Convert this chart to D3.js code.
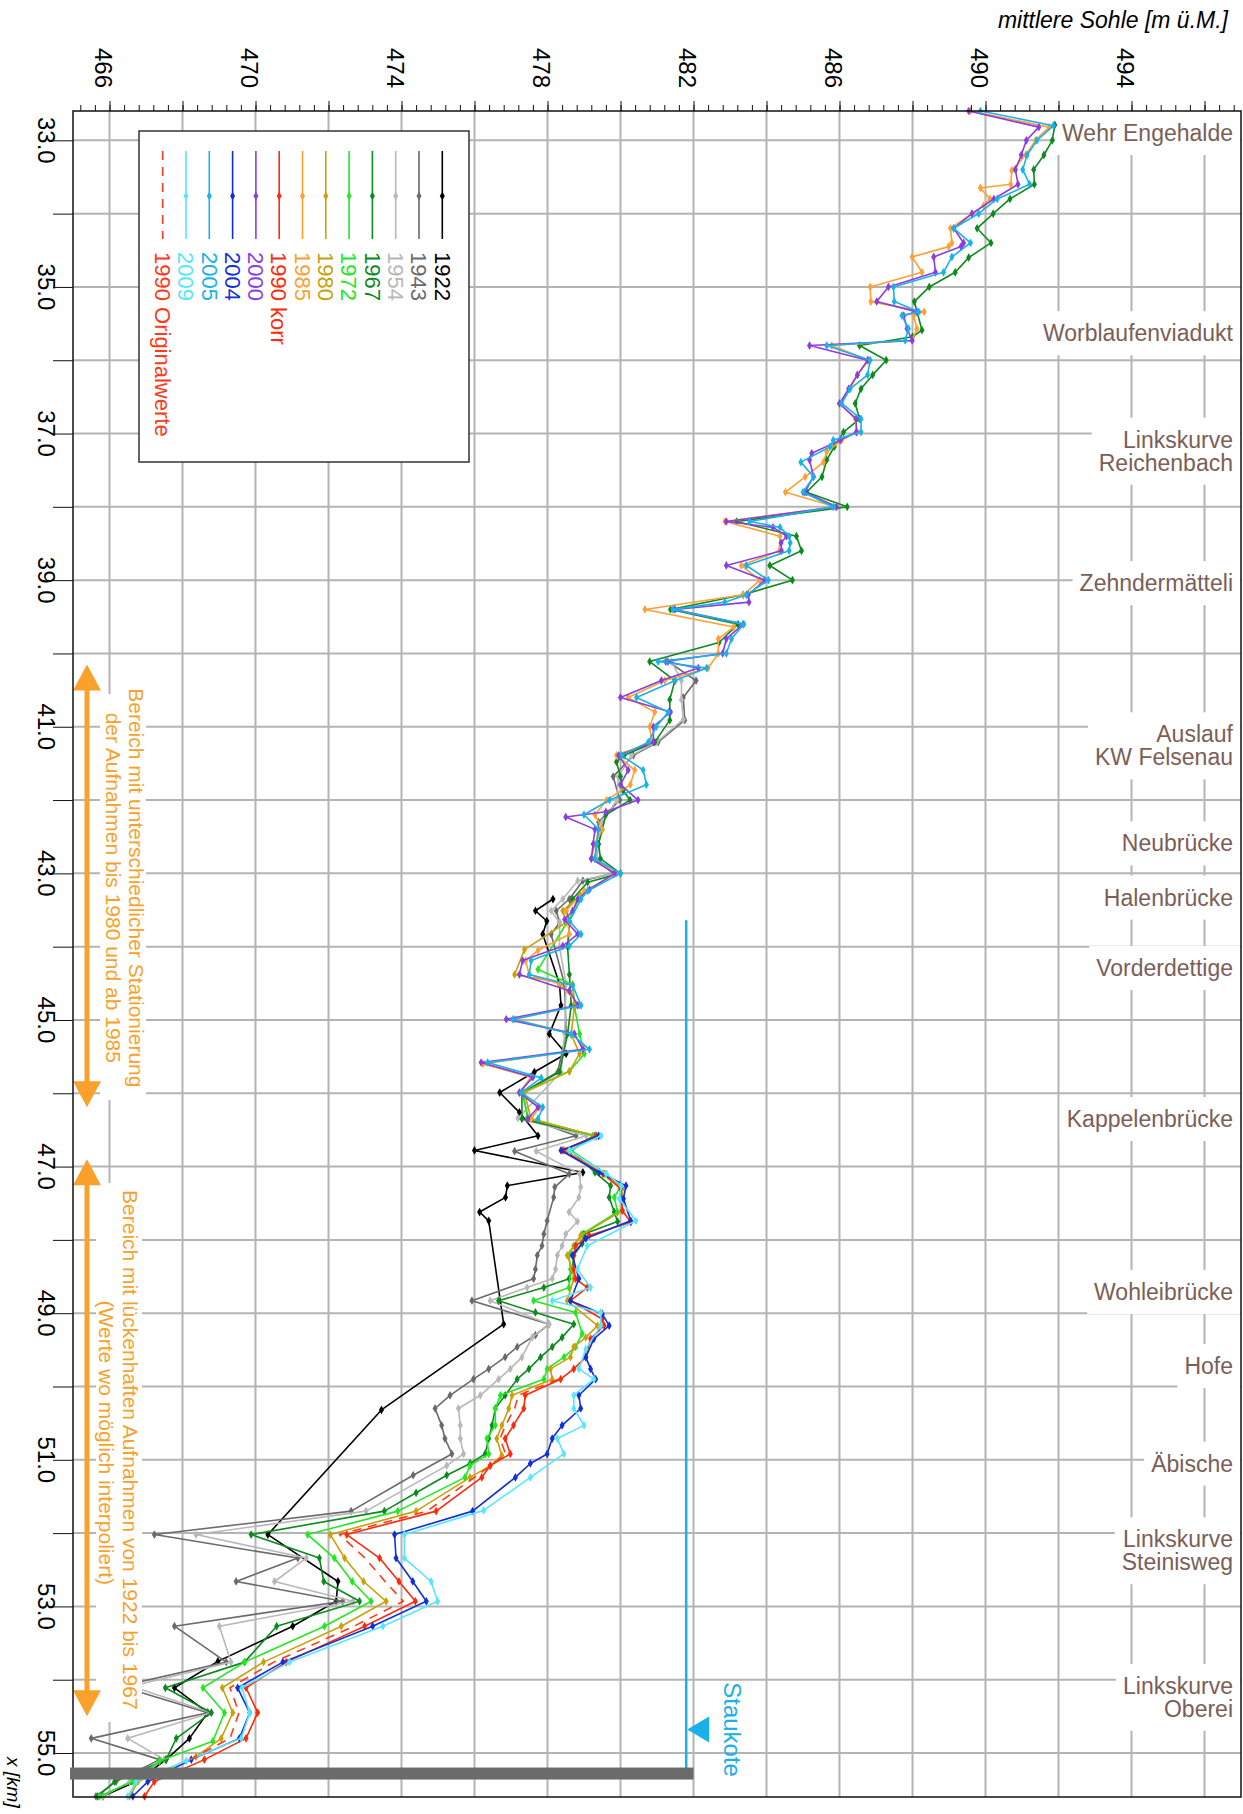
<!DOCTYPE html>
<html><head><meta charset="utf-8">
<script src="https://cdn.jsdelivr.net/npm/d3@7"></script>
<style>body{margin:0;background:#fff}svg{display:block}text{font-family:"Liberation Sans",Arial,Helvetica,sans-serif}</style>
</head><body>
<svg id="c" width="1243" height="1814"></svg>
<script>
// ---- data: [km, mittlere Sohle m ü.M.] ----
const s1922=[[43.35,478.15],[43.51,477.67],[43.65,477.98],[43.83,477.87],[44.51,478.33],[44.8,478.37],[45.19,478.05],[45.46,478.51],[45.71,477.64],[45.99,476.69],[46.26,477.23],[46.58,477.74],[46.78,476.0],[47.08,478.97],[47.26,476.9],[47.42,476.85],[47.62,476.14],[47.74,476.39],[49.15,476.8],[50.32,473.45],[52.02,470.34],[52.66,472.26],[52.93,472.21],[53.27,471.02],[53.75,468.97],[54.11,467.78],[54.45,468.69],[54.8,468.19],[55.09,467.55],[55.39,466.73],[55.59,465.82]];
const s1943=[[40.11,481.3],[40.37,482.07],[40.6,481.72],[40.91,481.76],[41.21,481.03],[41.39,480.35],[41.68,479.8],[42.0,479.98],[42.3,479.4],[42.6,479.35],[42.8,479.3],[43.0,479.8],[43.1,478.97],[43.35,478.6],[43.51,478.24],[43.67,478.33],[43.83,478.1],[44.52,478.47],[45.19,478.51],[45.71,478.28],[45.99,477.32],[46.34,477.46],[46.58,478.78],[46.79,477.1],[47.1,478.6],[47.28,478.2],[47.42,478.17],[47.74,477.99],[47.92,477.9],[48.08,477.85],[48.21,477.72],[48.4,477.67],[48.53,477.62],[48.83,475.93],[49.15,478.04],[49.3,477.67],[49.46,477.17],[49.6,476.84],[49.76,476.39],[49.9,475.97],[50.12,475.33],[50.3,474.92],[50.53,475.1],[50.71,475.19],[50.92,475.38],[51.21,474.32],[51.7,472.62],[52.02,467.23],[52.34,471.16],[52.66,469.47],[52.93,472.39],[53.27,467.78],[53.76,469.2],[54.09,466.3],[54.45,468.69],[54.8,465.5],[55.09,467.37],[55.39,466.18],[55.59,465.63]];
const s1954=[[40.11,481.4],[40.37,481.67],[40.63,481.67],[40.9,481.72],[41.21,480.99],[41.39,480.3],[41.68,479.94],[42.0,479.9],[42.3,479.5],[42.6,479.4],[42.8,479.35],[43.0,479.85],[43.1,478.83],[43.35,478.42],[43.51,478.1],[43.67,478.33],[44.01,478.33],[44.51,478.51],[45.19,478.47],[45.71,478.37],[46.34,477.19],[46.58,479.06],[46.79,477.69],[47.1,478.88],[47.28,478.91],[47.42,478.86],[47.62,478.59],[47.75,478.82],[47.92,478.5],[48.08,478.4],[48.21,478.27],[48.4,478.22],[48.53,478.13],[48.65,477.44],[48.83,476.43],[49.15,478.04],[49.33,477.58],[49.6,477.3],[49.76,476.98],[49.9,476.66],[50.12,476.16],[50.3,475.56],[50.53,475.61],[50.71,475.61],[50.92,475.7],[51.08,475.24],[51.7,473.03],[52.02,468.37],[52.34,471.39],[52.66,470.52],[52.93,472.67],[53.27,469.01],[53.76,469.33],[54.09,466.6],[54.45,468.79],[54.8,466.5],[55.09,467.5],[55.39,466.55],[55.59,465.82]];
const s1967=[[32.79,491.9],[33.0,491.83],[33.2,491.6],[33.4,491.32],[33.6,491.34],[33.8,490.67],[34.0,490.21],[34.2,489.77],[34.4,490.15],[34.6,489.54],[34.8,489.17],[35.0,488.46],[35.2,488.05],[35.59,488.26],[35.68,488.0],[35.8,486.55],[36.0,487.28],[36.2,486.91],[36.39,486.59],[36.59,486.43],[36.8,486.55],[36.98,486.11],[37.18,485.86],[37.36,485.65],[37.59,485.52],[37.8,485.1],[38.0,486.21],[38.2,483.18],[38.4,484.82],[38.6,484.96],[38.8,484.09],[39.0,484.71],[39.2,483.36],[39.4,481.37],[39.6,483.22],[39.85,482.7],[40.11,480.8],[40.37,481.49],[40.63,481.35],[40.91,481.35],[41.21,480.94],[41.39,480.1],[41.48,479.89],[41.68,480.0],[41.87,480.07],[42.0,480.26],[42.2,479.6],[42.4,479.5],[42.6,479.4],[42.8,479.45],[43.0,480.0],[43.12,479.1],[43.35,478.69],[43.51,478.51],[43.66,478.6],[44.0,478.55],[44.38,478.6],[44.8,478.65],[45.19,478.55],[45.71,478.33],[46.0,477.3],[46.35,477.3],[46.58,479.3],[46.78,478.65],[47.08,479.3],[47.26,479.73],[47.42,479.69],[47.62,479.83],[47.75,479.92],[47.92,479.0],[48.05,478.95],[48.21,478.72],[48.4,478.68],[48.53,478.59],[48.65,477.9],[48.83,476.66],[48.99,477.67],[49.15,478.72],[49.33,478.4],[49.46,478.13],[49.6,477.81],[49.76,477.49],[49.9,477.17],[50.12,476.84],[50.3,476.57],[50.53,476.48],[50.71,476.39],[50.92,476.29],[51.05,475.88],[51.21,475.24],[51.45,474.4],[51.7,473.53],[52.02,469.88],[52.34,471.75],[52.66,471.87],[52.93,472.85],[53.27,470.58],[53.76,469.7],[54.11,467.53],[54.45,468.79],[54.8,467.83],[55.09,467.55],[55.39,466.14],[55.59,465.68]];
const s1972=[[43.3,478.9],[43.53,478.69],[43.65,478.56],[44.31,477.74],[44.52,478.69],[44.83,478.74],[45.19,478.88],[45.46,479.01],[45.7,478.6],[45.99,477.32],[46.33,477.46],[46.58,479.24],[46.78,478.65],[47.1,479.61],[47.26,480.01],[47.42,479.83],[47.62,479.92],[47.92,478.95],[48.08,478.72],[48.21,478.59],[48.4,478.63],[48.65,478.59],[48.83,477.62],[48.99,478.77],[49.28,478.95],[49.46,478.77],[49.6,478.45],[49.76,477.99],[49.9,477.9],[50.12,476.71],[50.3,476.57],[50.53,476.57],[50.71,476.34],[50.92,476.39],[51.08,475.88],[51.24,475.74],[51.7,473.9],[52.02,471.43],[52.34,472.16],[52.66,472.65],[52.93,473.17],[53.27,471.89],[53.76,469.7],[54.11,468.56],[54.45,469.15],[54.84,468.83],[55.11,467.37],[55.39,466.64],[55.59,465.73]];
const s1980=[[43.3,478.9],[43.51,478.42],[43.67,478.51],[44.04,477.37],[44.38,477.1],[44.52,478.69],[44.8,478.74],[45.2,478.65],[45.46,478.88],[45.7,478.6],[45.99,477.37],[46.35,477.55],[46.58,479.33],[46.78,478.47],[47.1,479.56],[47.3,480.05],[47.6,480.05],[47.94,478.91],[48.21,478.54],[48.4,478.68],[48.53,478.72],[48.83,478.54],[49.17,479.37],[49.33,479.05],[49.46,478.72],[49.6,478.63],[49.76,478.08],[49.9,478.13],[50.12,477.03],[50.3,476.94],[50.53,476.75],[50.71,476.61],[50.94,476.75],[51.08,476.43],[51.24,475.88],[51.7,474.4],[52.02,472.05],[52.34,472.44],[52.66,472.96],[52.93,473.58],[53.27,472.35],[53.76,470.22],[54.11,469.09],[54.45,469.38],[54.8,469.06],[55.05,468.37],[55.39,466.78],[55.59,466.55]];
const s1985=[[32.6,489.59],[32.82,491.74],[33.0,491.37],[33.2,491.1],[33.41,490.72],[33.6,490.69],[33.65,489.86],[33.8,490.12],[33.89,489.95],[34.0,489.63],[34.2,489.04],[34.4,489.08],[34.45,488.99],[34.59,487.99],[34.8,488.26],[35.0,486.84],[35.2,486.86],[35.34,488.32],[35.39,488.03],[35.57,488.12],[35.73,487.99],[35.8,485.79],[36.0,486.8],[36.2,486.49],[36.39,486.29],[36.59,486.0],[36.8,486.43],[36.98,486.49],[37.09,486.06],[37.25,485.65],[37.39,485.56],[37.59,485.06],[37.8,484.52],[38.0,485.88],[38.2,482.86],[38.4,484.37],[38.6,484.35],[38.8,483.31],[39.0,483.82],[39.2,483.36],[39.4,480.67],[39.64,483.1],[39.8,482.68],[40.0,482.68],[40.2,482.4],[40.37,481.21],[40.6,480.21],[40.8,480.94],[41.0,480.8],[41.21,480.85],[41.39,479.89],[41.59,480.39],[41.79,480.27],[42.0,479.62],[42.2,479.3],[42.4,479.5],[42.6,479.3],[42.8,479.2],[43.0,479.9],[43.24,479.01],[43.51,478.51],[43.83,478.6],[44.05,477.74],[44.19,477.4],[44.38,477.5],[44.51,478.33],[44.8,478.88],[44.99,477.1],[45.19,478.72],[45.4,479.0],[45.6,476.23],[45.78,477.55],[45.99,477.23],[46.19,477.78],[46.35,477.55]];
const s1990k=[[46.58,479.33],[46.78,478.42],[47.1,479.52],[47.3,480.0],[47.6,480.05],[47.76,480.28],[47.94,479.14],[48.08,478.77],[48.21,478.72],[48.4,478.72],[48.53,478.77],[48.65,479.09],[48.83,478.63],[49.08,479.5],[49.17,479.55],[49.35,479.18],[49.6,479.05],[49.76,478.72],[49.9,478.36],[50.12,477.39],[50.3,477.35],[50.53,477.07],[50.71,476.84],[50.92,476.98],[51.08,476.43],[51.24,476.2],[51.7,474.95],[52.02,472.5],[52.34,473.4],[52.66,473.93],[52.93,474.38],[53.27,472.99],[53.76,470.84],[54.11,469.74],[54.45,470.06],[54.8,469.74],[55.09,468.6],[55.39,467.23],[55.59,466.96]];
const s2000=[[32.6,489.54],[32.82,491.46],[33.0,491.12],[33.2,490.98],[33.4,490.82],[33.6,490.89],[33.8,490.23],[34.0,489.63],[34.2,489.13],[34.4,489.4],[34.45,489.33],[34.59,488.58],[34.8,488.63],[35.0,487.34],[35.2,487.02],[35.34,488.12],[35.39,487.76],[35.57,487.85],[35.73,487.99],[35.8,485.18],[36.0,486.77],[36.2,486.49],[36.39,486.25],[36.59,486.0],[36.8,486.46],[36.98,486.46],[37.09,486.02],[37.27,485.24],[37.36,485.18],[37.59,485.29],[37.8,485.05],[38.0,485.92],[38.2,482.9],[38.28,484.18],[38.4,484.55],[38.49,484.4],[38.6,484.41],[38.8,482.9],[39.0,483.95],[39.2,483.5],[39.3,483.52],[39.4,481.49],[39.6,483.36],[39.8,482.9],[40.0,482.8],[40.11,481.24],[40.2,482.13],[40.37,481.12],[40.6,480.0],[40.8,481.37],[41.0,480.9],[41.21,480.9],[41.39,479.95],[41.59,480.21],[41.79,480.0],[42.0,480.48],[42.16,479.6],[42.23,478.5],[42.4,479.3],[42.6,479.25],[42.8,479.2],[43.0,479.84],[43.22,479.15],[43.35,478.83],[43.51,478.69],[43.63,478.47],[43.83,478.83],[43.99,478.42],[44.19,477.32],[44.38,477.23],[44.6,478.6],[44.8,478.83],[44.99,476.87],[45.19,478.74],[45.4,478.97],[45.58,476.18],[45.78,477.6],[45.99,477.23],[46.19,477.74],[46.35,477.46]];
const s2004=[[46.58,479.4],[46.78,478.37],[47.08,479.42],[47.26,480.15],[47.44,480.08],[47.74,480.28],[47.98,479.05],[48.21,478.68],[48.53,478.86],[48.83,478.63],[49.01,479.5],[49.17,479.69],[49.35,479.27],[49.6,479.05],[49.76,479.18],[49.9,479.32],[50.12,478.86],[50.3,478.91],[50.53,478.4],[50.71,478.13],[50.92,477.99],[51.05,477.53],[51.24,477.12],[51.7,475.95],[52.02,473.81],[52.34,473.85],[52.66,474.31],[52.93,474.68],[53.27,473.21],[53.76,470.75],[54.11,469.51],[54.45,469.84],[54.8,469.56],[55.09,468.24],[55.39,467.05],[55.59,466.64]];
const s2005=[[32.6,489.86],[32.8,491.86],[33.0,491.41],[33.2,491.14],[33.4,491.02],[33.6,491.21],[33.8,490.32],[34.0,489.81],[34.2,489.13],[34.4,489.59],[34.59,489.08],[34.8,488.85],[35.0,487.48],[35.2,487.5],[35.34,488.17],[35.39,487.71],[35.57,487.89],[35.73,487.8],[35.8,485.65],[36.0,486.84],[36.2,486.77],[36.39,486.29],[36.59,486.06],[36.8,486.59],[36.98,486.59],[37.09,485.83],[37.18,485.74],[37.39,484.94],[37.59,485.29],[37.8,485.0],[38.0,485.83],[38.2,483.54],[38.28,484.37],[38.4,484.62],[38.49,484.65],[38.6,484.62],[38.8,483.45],[39.0,484.05],[39.2,483.45],[39.3,482.86],[39.4,481.44],[39.6,483.38],[39.8,483.04],[40.0,482.9],[40.11,481.03],[40.2,482.36],[40.37,481.5],[40.6,480.44],[40.8,481.31],[41.0,480.98],[41.21,480.76],[41.39,480.03],[41.59,480.62],[41.79,480.71],[42.0,479.7],[42.2,479.0],[42.4,479.4],[42.6,479.35],[42.8,479.3],[43.0,480.0],[43.24,479.1],[43.35,478.92],[43.65,478.6],[43.83,478.92],[43.99,478.6],[44.19,477.55],[44.38,477.5],[44.53,478.69],[44.8,478.92],[44.99,477.05],[45.19,478.65],[45.4,479.15],[45.58,476.36],[45.79,477.83],[45.99,477.28],[46.19,477.87],[46.35,477.74]];
const s2009=[[46.58,479.47],[46.78,478.6],[47.1,479.61],[47.26,480.02],[47.44,479.97],[47.74,480.42],[48.08,479.09],[48.4,478.82],[48.65,479.18],[48.83,478.13],[48.99,479.46],[49.17,479.46],[49.49,479.05],[49.76,478.86],[49.9,479.27],[50.12,478.72],[50.3,478.72],[50.53,479.0],[50.71,478.27],[50.92,478.45],[51.24,477.53],[51.69,476.25],[52.02,474.08],[52.34,474.08],[52.66,474.81],[52.93,474.99],[53.27,473.49],[53.76,470.93],[54.11,469.63],[54.45,469.84],[54.8,469.61],[55.11,468.1],[55.39,466.73],[55.59,466.5]];
const s1990o=[[49.9,478.3],[50.12,477.2],[50.3,477.1],[50.53,476.85],[50.71,476.7],[50.92,476.85],[51.08,476.45],[51.24,476.0],[51.7,474.7],[52.02,472.3],[52.34,473.0],[52.66,473.55],[52.93,474.05],[53.27,472.7],[53.76,470.5],[54.11,469.3],[54.45,469.55],[54.8,469.3],[55.09,468.2]];

const seriesNames=["1922","1943","1954","1967","1972","1980","1985","1990 korr","2000","2004","2005","2009","1990 Originalwerte"];
const seriesColors=["#000000","#6a6a6a","#b8b8b8","#0b8a1e","#22e822","#c9a20a","#ffa030","#ff2a0a","#8a3ee0","#1030d8","#18b2ea","#58e6ff","#ff3a1a"];
const seriesData=[s1922,s1943,s1954,s1967,s1972,s1980,s1985,s1990k,s2000,s2004,s2005,s2009,s1990o];

const kmTicks=d3.range(33,56,1);
const kmLabels=[33,35,37,39,41,43,45,47,49,51,53,55];
const elevGrid=d3.range(466,497,2);
const elevLabels=[466,470,474,478,482,486,490,494];
const landmarkNames=["Wehr Engehalde","Worblaufenviadukt","Linkskurve\nReichenbach","Zehndermätteli","Auslauf\nKW Felsenau","Neubrücke","Halenbrücke","Vorderdettige","Kappelenbrücke","Wohleibrücke","Hofe","Äbische","Linkskurve\nSteinisweg","Linkskurve\nOberei"];
const landmarkKm=[32.9,35.63,37.24,39.04,41.26,42.59,43.33,44.29,46.35,48.71,49.72,51.05,52.24,54.24];
const staukote=481.8, staukoteFromKm=43.64, wehrKm=55.28, wehrTop=482.0, staukoteMarkKm=54.68;
const arrowRanges=[[40.15,46.19],[46.9,54.5]];
const noteLines=[["Bereich mit unterschiedlicher Stationierung","der Aufnahmen bis 1980 und ab 1985"],["Bereich mit lückenhaften Aufnahmen von 1922 bis 1967","(Werte wo möglich interpoliert)"]];

// ---- drawing ----
const svg=d3.select('#c');
const x=d3.scaleLinear().domain([465,497]).range([73,1241]);
const y=d3.scaleLinear().domain([32.6,55.6]).range([111,1797]);
const X0=73,X1=1241,Y0=111,Y1=1797;
const GRID='#b4b4b4';

function vtext(g,px,py,str,opt){
  opt=opt||{};
  const t=g.append('text').attr('transform',`translate(${px},${py}) rotate(90)`)
   .attr('text-anchor',opt.anchor||'middle').attr('dy',opt.dy||'0.35em')
   .attr('font-size',opt.size||22).attr('fill',opt.fill||'#000').text(str);
  if(opt.italic) t.attr('font-style','italic');
  return t;
}

// grid
const grid=svg.append('g');
grid.selectAll('line.v').data(elevGrid).join('line').attr('x1',d=>x(d)).attr('x2',d=>x(d)).attr('y1',Y0).attr('y2',Y1).attr('stroke',GRID).attr('stroke-width',2);
grid.selectAll('line.h').data(kmTicks).join('line').attr('x1',X0).attr('x2',X1).attr('y1',d=>y(d)).attr('y2',d=>y(d)).attr('stroke',GRID).attr('stroke-width',2);

// landmark labels
const lm=svg.append('g');
landmarkNames.forEach((nm,i)=>{
  const lines=nm.split('\n');
  const g=lm.append('g');
  const bg=g.append('rect').attr('fill','#fff');
  const tg=g.append('g');
  lines.forEach((ln,j)=>{
    tg.append('text').attr('x',1233).attr('y',y(landmarkKm[i])+(j-(lines.length-1)/2)*23)
      .attr('dy','0.35em').attr('text-anchor','end').attr('font-size',23).attr('fill','#7b5e57').text(ln);
  });
  const bb=tg.node().getBBox();
  bg.attr('x',bb.x-7).attr('y',bb.y-9).attr('width',bb.width+14).attr('height',bb.height+18);
});

// Staukote
const sk=svg.append('g');
sk.append('line').attr('x1',x(staukote)).attr('x2',x(staukote)).attr('y1',y(staukoteFromKm)).attr('y2',y(wehrKm)).attr('stroke','#1ab0e8').attr('stroke-width',2.5);
const ty=y(staukoteMarkKm), tx=x(staukote);
sk.append('path').attr('d',`M${tx+1},${ty} L${tx+23},${ty-13} L${tx+23},${ty+13} Z`).attr('fill','#1ab0e8');
vtext(sk,tx+46,ty,'Staukote',{size:24,fill:'#1ab0e8'});

// series
const line=d3.line().x(d=>x(d[1])).y(d=>y(d[0]));
const sym=d3.symbol().type(d3.symbolDiamond).size(22);
const dg=svg.append('g');
seriesData.forEach((data,i)=>{
  const dashed=seriesNames[i]==="1990 Originalwerte";
  const g=dg.append('g');
  g.append('path').datum(data).attr('d',line).attr('fill','none').attr('stroke',seriesColors[i])
   .attr('stroke-width',1.6).attr('stroke-linejoin','round').attr('stroke-dasharray',dashed?'9,7':null);
  if(!dashed){
    g.selectAll('path.m').data(data).join('path').attr('class','m').attr('d',sym)
     .attr('transform',d=>`translate(${x(d[1])},${y(d[0])})`).attr('fill',seriesColors[i]);
  }
});

// notes on the left
const nt=svg.append('g');
nt.append('rect').attr('x',100).attr('y',694).attr('width',46).attr('height',406).attr('fill','#fff');
nt.append('rect').attr('x',96).attr('y',1183).attr('width',46).attr('height',539).attr('fill','#fff');
const ORG='#f9a12a';
const yc1=(y(arrowRanges[0][0])+y(arrowRanges[0][1]))/2+2, yc2=(y(arrowRanges[1][0])+y(arrowRanges[1][1]))/2+12;
vtext(nt,136,yc1,noteLines[0][0],{size:21,fill:ORG});
vtext(nt,113,yc1,noteLines[0][1],{size:21,fill:ORG});
vtext(nt,130,yc2,noteLines[1][0],{size:21,fill:ORG});
vtext(nt,106,yc2-7,noteLines[1][1],{size:21,fill:ORG});
arrowRanges.forEach(r=>{
  const a=y(r[0]), b=y(r[1]), ax=87, hl=26, hw=14;
  nt.append('line').attr('x1',ax).attr('x2',ax).attr('y1',a+hl-2).attr('y2',b-hl+2).attr('stroke',ORG).attr('stroke-width',5);
  nt.append('path').attr('d',`M${ax},${a} L${ax-hw},${a+hl} L${ax+hw},${a+hl} Z`).attr('fill',ORG);
  nt.append('path').attr('d',`M${ax},${b} L${ax-hw},${b-hl} L${ax+hw},${b-hl} Z`).attr('fill',ORG);
});

// legend
const lg=svg.append('g');
lg.append('rect').attr('x',139).attr('y',131).attr('width',330).attr('height',331).attr('fill','#fff').attr('stroke','#333').attr('stroke-width',1.5);
seriesNames.forEach((nm,i)=>{
  const lx=442.3-i*23.3;
  const dashed=nm==="1990 Originalwerte";
  lg.append('line').attr('x1',lx).attr('x2',lx).attr('y1',151).attr('y2',239).attr('stroke',seriesColors[i]).attr('stroke-width',1.6).attr('stroke-dasharray',dashed?'9,7':null);
  if(!dashed) lg.append('path').attr('d',sym).attr('transform',`translate(${lx},196)`).attr('fill',seriesColors[i]);
  vtext(lg,lx,252,nm,{size:22,fill:seriesColors[i],anchor:'start'});
});

// frame + axes
svg.append('rect').attr('x',X0).attr('y',Y0).attr('width',X1-X0).attr('height',Y1-Y0).attr('fill','none').attr('stroke','#111').attr('stroke-width',1.5);
const topMinor=svg.append('g').attr('transform',`translate(0,${Y0})`)
  .call(d3.axisTop(x).tickValues(d3.range(465.2,497,0.4)).tickSize(6).tickFormat(''));
const topMajor=svg.append('g').attr('transform',`translate(0,${Y0})`)
  .call(d3.axisTop(x).tickValues(elevGrid).tickSize(10).tickFormat(''));
[topMinor,topMajor].forEach(g=>{g.select('.domain').remove();g.selectAll('line').attr('stroke','#111');});
const left=svg.append('g').attr('transform',`translate(${X0},0)`)
  .call(d3.axisLeft(y).tickValues(kmTicks).tickSize(20).tickFormat(''));
left.select('.domain').remove(); left.selectAll('line').attr('stroke','#111');
const lab=svg.append('g');
elevLabels.forEach(v=>vtext(lab,x(v)-6,68,String(v),{size:24}));
kmLabels.forEach(k=>vtext(lab,46,y(k),k.toFixed(1),{size:24}));

// weir bar
svg.append('rect').attr('x',70).attr('y',y(wehrKm)-6).attr('width',x(wehrTop)-70).attr('height',12).attr('fill','#6b6b6b');

// titles
svg.append('text').attr('x',1228).attr('y',28).attr('text-anchor','end').attr('font-size',23).attr('font-style','italic').text('mittlere Sohle [m ü.M.]');
vtext(svg,14,1757,'x [km]',{size:19,italic:true,anchor:'start'});
</script>
</body></html>
